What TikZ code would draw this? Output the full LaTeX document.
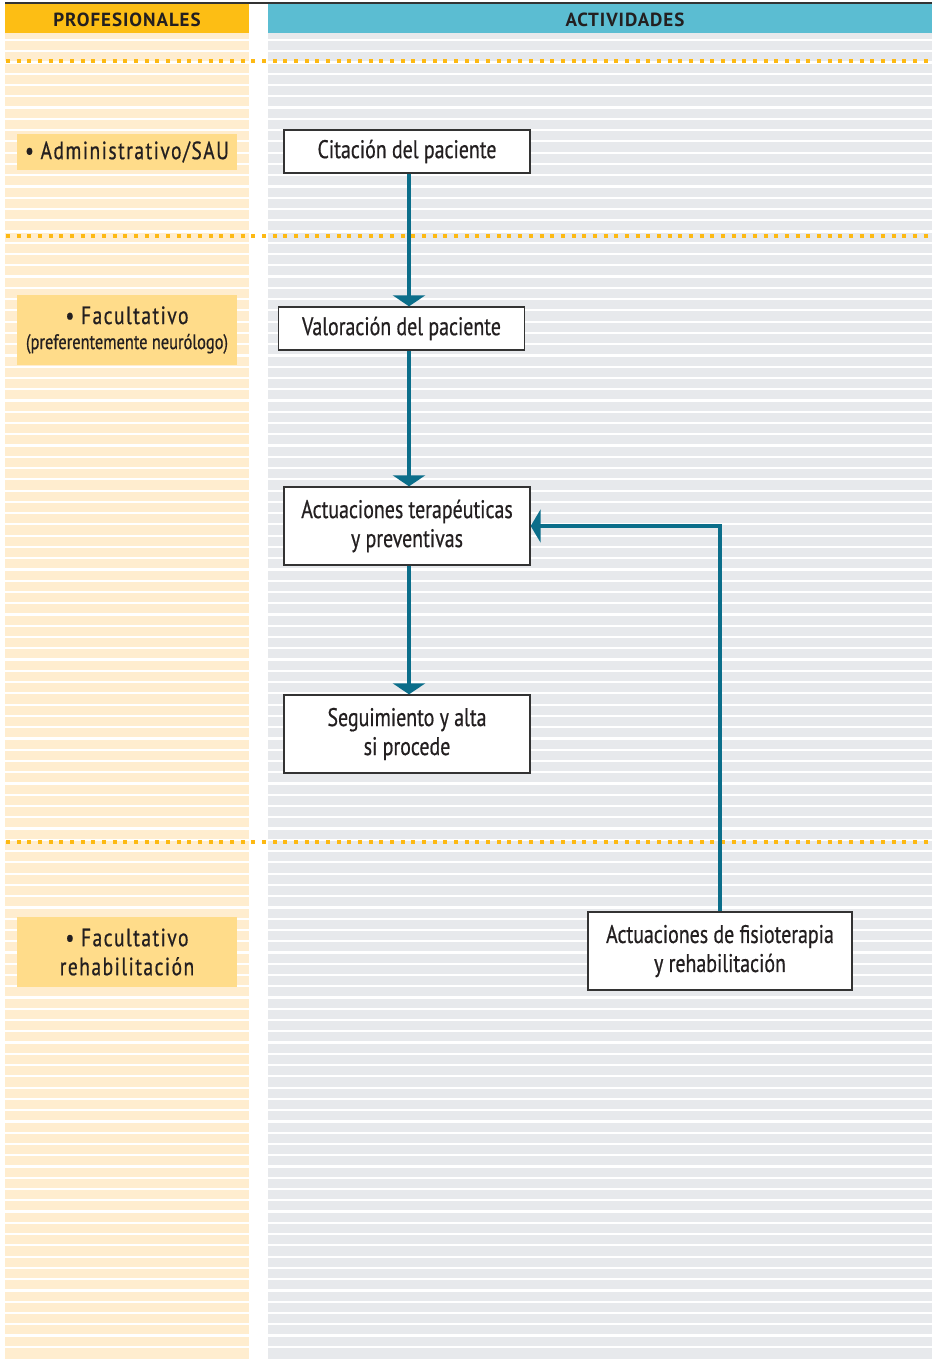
\documentclass[tikz,border=0pt]{standalone}
\usepackage{fontspec}
\setmainfont{PT Sans}[FakeStretch=0.78,FakeBold=0.6]
\newfontfamily\spacedfont{PT Sans}[FakeStretch=0.78,FakeBold=0.6,LetterSpace=6]
\newfontfamily\headfont{PT Sans}[LetterSpace=5]
\usetikzlibrary{positioning,arrows.meta}
\definecolor{headorange}{HTML}{FDBE14}
\definecolor{headblue}{HTML}{5BBDD2}
\definecolor{stripeorange}{HTML}{FFEDCF}
\definecolor{stripegray}{HTML}{E7E9EC}
\definecolor{labelorange}{HTML}{FFDC8A}
\definecolor{dotorange}{HTML}{FDB913}
\definecolor{flowteal}{HTML}{0B6E8A}
\definecolor{boxline}{HTML}{333333}
\definecolor{ink}{HTML}{231F20}

\begin{document}
\begin{tikzpicture}[x=1pt, y=-1pt,
    act/.style={draw=boxline, line width=1.3pt, fill=white, minimum width=246pt, minimum height=43pt, align=center, text=ink, font=\fontsize{25.5}{29}\selectfont, inner sep=0pt},
    prof/.style={fill=labelorange, minimum width=220pt, align=center, text=ink, inner sep=0pt},
    head/.style={font=\headfont\bfseries\fontsize{19}{19}\selectfont, text=ink},
    flow/.style={draw=flowteal, line width=4pt, -{Triangle[width=32pt,length=11pt]}},
    dotline/.style={draw=dotorange, line width=4.5pt, dash pattern=on 4pt off 6.67pt}
]
    \useasboundingbox (0,0) rectangle (932,1359);

    % Columns
    \fill[stripeorange] (5,33) rectangle (249,1359);
    \fill[stripegray] (268,33) rectangle (932,1359);
    \foreach \k in {0,...,116} {
        \draw[white, line width=2.2pt] (5,40+\k*11.265) -- (249,40+\k*11.265);
        \draw[white, line width=2.2pt] (268,40+\k*11.265) -- (932,40+\k*11.265);
    }

    % Headers
    \draw[boxline, line width=2.6pt] (5,3) -- (932,3);
    \fill[headorange] (5,4.3) rectangle (249,33);
    \fill[headblue] (268,4.3) rectangle (932,33);
    \node [head] (profhead) at (127,19.5) {PROFESIONALES};
    \node [head] (acthead) at (625,19.5) {ACTIVIDADES};

    % Separators
    \foreach \y in {61,236,842} {
        \draw[dotline] (6,\y) -- (932,\y);
    }

    % Professionals
    \node [prof, minimum height=36pt, font=\spacedfont\fontsize{25}{29}\selectfont] (admin) at (127,152) {\textbullet\ Administrativo/SAU};
    \node [prof, minimum height=70pt, font=\fontsize{21}{25}\selectfont] (facult) at (127,330) {{\spacedfont\fontsize{25}{25}\selectfont \textbullet\ Facultativo}\\{(preferentemente neurólogo)}};
    \node [prof, minimum height=70pt, font=\spacedfont\fontsize{25}{29}\selectfont] (rehab) at (127,952) {\textbullet\ Facultativo\\rehabilitación};

    % Activities
    \node [act] (citacion) at (407,151.5) {Citación del paciente};
    \node [act] (valoracion) at (401.5,328.5) {Valoración del paciente};
    \node [act, minimum height=78pt] (terapeuticas) at (407,526) {Actuaciones terapéuticas\\y preventivas};
    \node [act, minimum height=78pt] (seguimiento) at (407,734) {Seguimiento y alta\\si procede};
    \node [act, minimum width=264pt, minimum height=78pt] (fisio) at (720,951) {Actuaciones de fisioterapia\\y rehabilitación};

    % Flow
    \draw[flow] ([xshift=2pt]citacion.south) -- ([xshift=2pt]citacion.south |- valoracion.north);
    \draw[flow] ([xshift=2pt]valoracion.south -| terapeuticas.north) -- ([xshift=2pt]terapeuticas.north);
    \draw[flow] ([xshift=2pt]terapeuticas.south) -- ([xshift=2pt]seguimiento.north);
    \draw[flow, -{Triangle[width=33pt,length=10pt]}] (fisio.north) |- (terapeuticas.east);
\end{tikzpicture}
\end{document}
